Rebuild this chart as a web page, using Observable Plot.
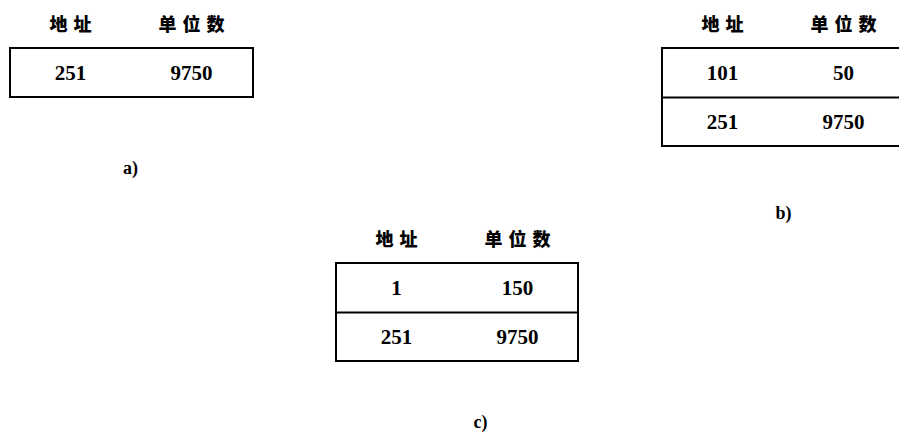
<!DOCTYPE html>
<html>
<head>
<meta charset="utf-8">
<script src="https://cdn.jsdelivr.net/npm/d3@7"></script>
<script src="https://cdn.jsdelivr.net/npm/@observablehq/plot@0.6"></script>
<style>
  html, body { margin: 0; padding: 0; background: #fff; overflow: hidden; }
</style>
</head>
<body>
<div id="chart"></div>
<script>
// ---- data ----
const tableLabels = ["a)", "b)", "c)"];
const headers = ["地址", "单位数"];
const addresses = [[251], [101, 251], [1, 251]];
const units = [[9750], [50, 9750], [150, 9750]];

// ---- layout (page geometry, not data) ----
const W = 899, H = 437;
const origins = [[10, 48], [662, 48], [336, 263]];
const boxWidths = [243, 260, 242];
const captionPos = [[130, 168], [783, 213], [480, 422]];
const rowH = 49, colX = [60, 181];

const boxes = [], dividers = [], headTexts = [], cells = [], captions = [];
tableLabels.forEach((lab, t) => {
  const [ox, oy] = origins[t];
  const bw = boxWidths[t];
  const n = addresses[t].length;
  boxes.push({x1: ox, x2: ox + bw, y1: oy, y2: oy + n * rowH});
  for (let i = 1; i < n; i++) dividers.push({x1: ox, x2: ox + bw, y: oy + i * rowH});
  headers.forEach((h, c) => headTexts.push({x: ox + colX[c], y: oy - 23, text: h}));
  addresses[t].forEach((a, i) => {
    cells.push({x: ox + colX[0], y: oy + 24.5 + i * rowH, text: String(a)});
    cells.push({x: ox + colX[1], y: oy + 24.5 + i * rowH, text: String(units[t][i])});
  });
  captions.push({x: captionPos[t][0], y: captionPos[t][1], text: lab});
});

const chart = Plot.plot({
  width: W, height: H,
  margin: 0,
  x: {type: "linear", domain: [0, W], range: [0, W], axis: null},
  y: {type: "linear", domain: [0, H], range: [0, H], axis: null},
  style: {background: "#fff", overflow: "hidden"},
  marks: [
    Plot.rect(boxes, {x1: "x1", x2: "x2", y1: "y1", y2: "y2", fill: "none", stroke: "#000", strokeWidth: 2, clip: true}),
    Plot.ruleY(dividers, {y: "y", x1: "x1", x2: "x2", stroke: "#000", strokeWidth: 2, clip: true}),
    Plot.text(headTexts, {x: "x", y: "y", text: "text", dx: 3, fontSize: 18, fontWeight: 900,
      fontFamily: "'Noto Sans CJK SC', sans-serif", fill: "#000"}),
    Plot.text(cells, {x: "x", y: "y", text: "text", fontSize: 21, fontWeight: "bold",
      fontFamily: "'Liberation Serif', 'DejaVu Serif', serif", fill: "#000"}),
    Plot.text(captions, {x: "x", y: "y", text: "text", fontSize: 18, fontWeight: "bold",
      fontFamily: "'Liberation Serif', 'DejaVu Serif', serif", fill: "#000"})
  ]
});
// letter spacing for the CJK headers
d3.select(chart).selectAll("text").filter(function() { return /[\u4e00-\u9fff]/.test(this.textContent); })
  .style("letter-spacing", "6px");
document.getElementById("chart").appendChild(chart);
</script>
</body>
</html>
